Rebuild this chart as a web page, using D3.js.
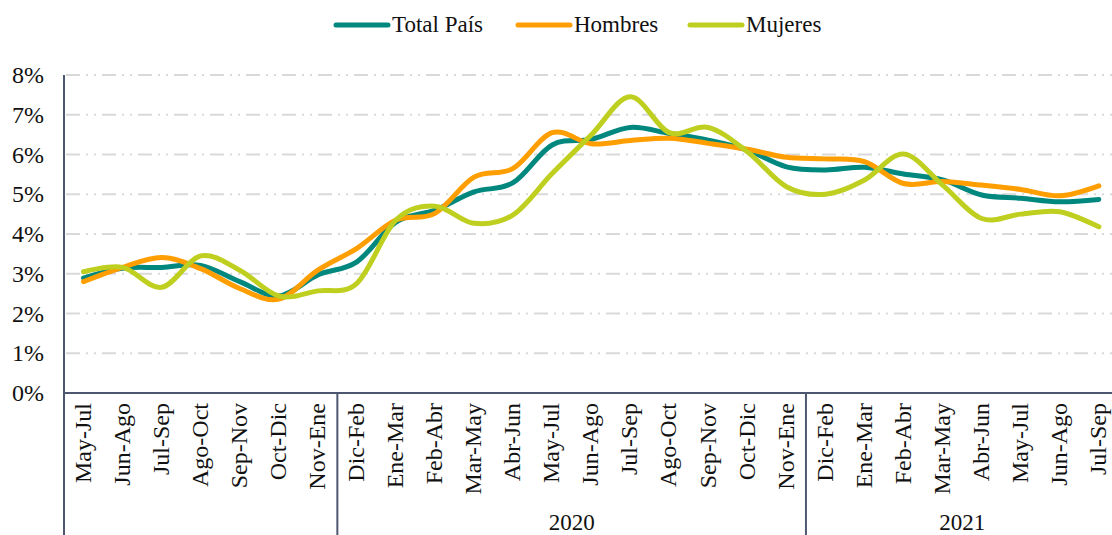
<!DOCTYPE html>
<meta charset="utf-8">
<style>

  body {
    margin: 0;
    background: #fff;
  }

  svg {
    display: block;
    font-family: "Liberation Serif", "DejaVu Serif", serif;
  }

  .grid line {
    stroke: #d9d9d9;
    stroke-width: 2px;
    stroke-dasharray: 14, 6, 2, 6, 2, 6;
  }

  .frame {
    stroke: #4d5870;
    stroke-width: 2px;
    fill: none;
  }

  .axis path,
  .axis line {
    display: none;
  }

  .axis text {
    font-family: "Liberation Serif", "DejaVu Serif", serif;
    font-size: 24px;
    fill: #111;
  }

  .legend text,
  .year {
    font-family: "Liberation Serif", "DejaVu Serif", serif;
    font-size: 23px;
    fill: #111;
  }

  .line {
    fill: none;
    stroke-width: 5px;
    stroke-linecap: round;
    stroke-linejoin: round;
  }

</style>
<body>
<script src="https://cdn.jsdelivr.net/npm/d3@7"></script>
<script>

  // Periods (moving quarters) and the year groups they belong to.
  var periods = [
    "May-Jul", "Jun-Ago", "Jul-Sep", "Ago-Oct", "Sep-Nov", "Oct-Dic", "Nov-Ene",
    "Dic-Feb", "Ene-Mar", "Feb-Abr", "Mar-May", "Abr-Jun", "May-Jul", "Jun-Ago",
    "Jul-Sep", "Ago-Oct", "Sep-Nov", "Oct-Dic", "Nov-Ene",
    "Dic-Feb", "Ene-Mar", "Feb-Abr", "Mar-May", "Abr-Jun", "May-Jul", "Jun-Ago", "Jul-Sep"
  ];
  var groupNames = ["", "2020", "2021"];
  var groupSizes = [7, 12, 8];

  // Values in percent.
  var totalPais = [2.89, 3.14, 3.16, 3.21, 2.80, 2.44, 2.97, 3.30, 4.30, 4.60, 5.06, 5.29, 6.24,
    6.38, 6.68, 6.53, 6.36, 6.11, 5.69, 5.61, 5.68, 5.51, 5.36, 4.98, 4.90, 4.81, 4.87];
  var hombres = [2.80, 3.16, 3.41, 3.13, 2.63, 2.36, 3.09, 3.64, 4.35, 4.52, 5.43, 5.65, 6.55,
    6.27, 6.35, 6.41, 6.28, 6.13, 5.93, 5.89, 5.82, 5.27, 5.32, 5.23, 5.12, 4.96, 5.21];
  var mujeres = [3.05, 3.16, 2.66, 3.45, 3.09, 2.44, 2.57, 2.76, 4.35, 4.70, 4.27, 4.48, 5.52,
    6.49, 7.45, 6.55, 6.68, 6.07, 5.19, 5.00, 5.36, 6.01, 5.23, 4.39, 4.50, 4.56, 4.18];

  var yTicks = [0, 1, 2, 3, 4, 5, 6, 7, 8];

  var seriesNames = ["Total País", "Hombres", "Mujeres"];
  var seriesColors = ["#00877e", "#ff9e00", "#bfcf1f"];
  var seriesValues = [totalPais, hombres, mujeres];

  var width = 1112;
  var height = 535;
  var margin = {top: 75, left: 64, bottom: 142};
  var band = 39.05;

  var x = d3.scaleBand()
    .domain(d3.range(periods.length))
    .range([margin.left, margin.left + band * periods.length]);

  var y = d3.scaleLinear()
    .domain([0, 8])
    .range([height - margin.bottom, margin.top]);

  var svg = d3.select("body").append("svg")
    .attr("width", width)
    .attr("height", height);

  svg.append("rect")
    .attr("width", width)
    .attr("height", height)
    .attr("fill", "#fff");

  // Dash-dot gridlines.
  svg.append("g")
    .attr("class", "grid")
    .selectAll("line")
    .data(yTicks.slice(1))
    .enter().append("line")
    .attr("x1", margin.left + 2)
    .attr("x2", width)
    .attr("y1", function(d) { return y(d); })
    .attr("y2", function(d) { return y(d); });

  // Left axis labels.
  svg.append("g")
    .attr("class", "axis axis--y")
    .attr("transform", "translate(" + margin.left + ",0)")
    .call(d3.axisLeft(y).tickValues(yTicks).tickSize(0).tickPadding(20)
      .tickFormat(function(d) { return d + "%"; }))
    .selectAll("text")
    .attr("dy", "0.32em");

  // Bottom axis labels, rotated.
  var x0 = y(0);
  svg.append("g")
    .attr("class", "axis axis--x")
    .attr("transform", "translate(0," + x0 + ")")
    .call(d3.axisBottom(x).tickSize(0).tickFormat(function(i) { return periods[i]; }))
    .selectAll("text")
    .attr("transform", "rotate(-90)")
    .attr("x", -10)
    .attr("y", 0)
    .attr("dy", "0.3em")
    .style("text-anchor", "end");

  // Frame: left axis, baseline and group separators.
  svg.append("line")
    .attr("class", "frame")
    .attr("x1", margin.left).attr("x2", margin.left)
    .attr("y1", margin.top).attr("y2", height);

  svg.append("line")
    .attr("class", "frame")
    .attr("x1", margin.left).attr("x2", width)
    .attr("y1", x0).attr("y2", x0);

  var starts = [];
  groupSizes.reduce(function(acc, n) { starts.push(acc); return acc + n; }, 0);

  svg.selectAll(".sep")
    .data(starts.slice(1))
    .enter().append("line")
    .attr("class", "frame sep")
    .attr("x1", function(s) { return x(s); })
    .attr("x2", function(s) { return x(s); })
    .attr("y1", x0)
    .attr("y2", height);

  svg.selectAll(".year")
    .data(groupNames)
    .enter().append("text")
    .attr("class", "year")
    .attr("x", function(d, i) { return x(starts[i]) + x.step() * groupSizes[i] / 2; })
    .attr("y", 530)
    .attr("text-anchor", "middle")
    .text(function(d) { return d; });

  // Smoothed lines.
  var line = d3.line()
    .curve(d3.curveCardinal.tension(0))
    .x(function(d, i) { return x(i) + x.bandwidth() / 2; })
    .y(function(d) { return y(d); });

  svg.selectAll(".line")
    .data(seriesValues)
    .enter().append("path")
    .attr("class", "line")
    .attr("stroke", function(d, i) { return seriesColors[i]; })
    .attr("d", line);

  // Legend.
  var legendX = [336, 518, 690];
  var legend = svg.selectAll(".legend")
    .data(seriesNames)
    .enter().append("g")
    .attr("class", "legend")
    .attr("transform", function(d, i) { return "translate(" + legendX[i] + ",25)"; });

  legend.append("line")
    .attr("x1", 0).attr("x2", 52)
    .attr("stroke", function(d, i) { return seriesColors[i]; })
    .attr("stroke-width", 5)
    .attr("stroke-linecap", "round");

  legend.append("text")
    .attr("x", 56)
    .attr("y", 7)
    .text(function(d) { return d; });

</script>
